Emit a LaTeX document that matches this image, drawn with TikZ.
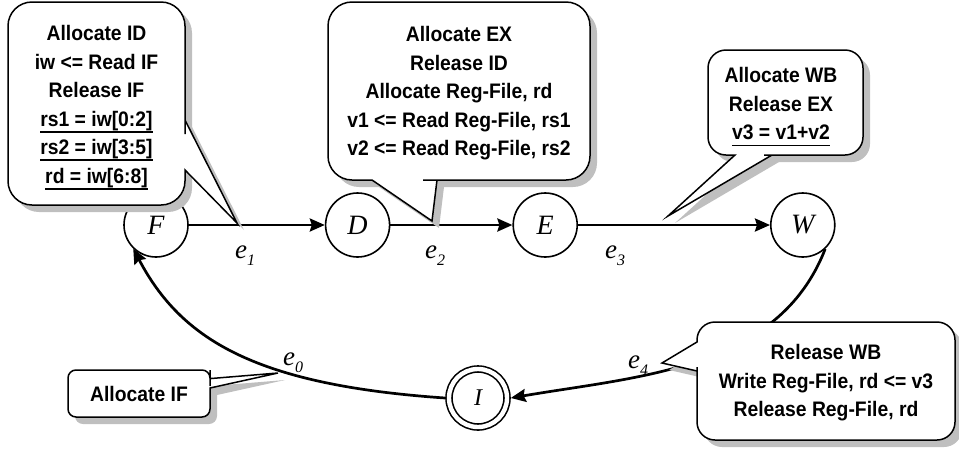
\documentclass[tikz,border=0pt]{standalone}
\usepackage{fontspec}
\setmainfont{Liberation Serif}
\newfontfamily\calloutfont{Liberation Sans}[FakeStretch=0.92]
\usetikzlibrary{arrows.meta,positioning}
\colorlet{shadowgrey}{black!25}
\newcommand{\elab}[1]{\textit{e}\raisebox{-7pt}{\fontsize{16}{16}\selectfont\textit{#1}}}
\newcommand{\ulined}[1]{{\setbox0\hbox{#1}\leavevmode\rlap{\vrule width\wd0 height-4.8pt depth6.6pt}\box0}}

\begin{document}
\begin{tikzpicture}[x=1pt,y=1pt,
    state/.style={circle,draw,line width=1.6pt,minimum size=64pt,inner sep=0pt,font=\fontsize{28}{28}\selectfont\itshape},
    final/.style={state,double,double distance=4.4pt,minimum size=58pt,outer sep=3.8pt,font=\fontsize{24}{24}\selectfont\itshape},
    flow/.style={line width=2.7pt,-{Stealth[length=15pt,width=13pt,inset=2pt]}},
    elabel/.style={anchor=base west,inner sep=0pt,font=\fontsize{27}{27}\selectfont},
    calltext/.style={align=center,inner sep=0pt,font=\calloutfont\bfseries\fontsize{21}{28.5}\selectfont},
    backshadow/.style={fill=shadowgrey,rounded corners=#1},
    backshadow/.default=0pt,
    balloon/.style={draw,fill=white,line width=1.5pt,rounded corners=#1}]
  \useasboundingbox (0,0) rectangle (959,-448);

  % pipeline states
  \node[state] (F) at (156,-225) {F};
  \node[state,right=136pt of F] (D) {D};
  \node[state,right=122pt of D] (E) {E};
  \node[state,right=192pt of E] (W) {W};
  \node[final] (I) at (478,-398) {I};

  \draw[flow] (F) -- (D);
  \draw[flow] (D) -- (E);
  \draw[flow] (E) -- (W);
  \draw[flow] (W.-47) .. controls +(-47,-121) and +(128,22) .. (I.east);
  \draw[flow] (I.west) .. controls +(-190,13) and +(48,-91) .. (F.226);

  \node[elabel] (e1) at (235,-258) {\elab{1}};
  \node[elabel] (e2) at (425,-258) {\elab{2}};
  \node[elabel] (e3) at (605,-258) {\elab{3}};
  \node[elabel] (e0) at (283,-365) {\elab{0}};
  \node[elabel] (e4) at (628,-368) {\elab{4}};

  % callout shadows
  \fill[backshadow=24pt] (15,-9) rectangle (192,-212);
  \fill[backshadow] (192,-127) -- (244,-230) -- (192,-177) -- cycle;
  \fill[backshadow=24pt] (335,-9) rectangle (597,-187);
  \fill[backshadow] (444,-187) -- (439,-228) -- (379,-187) -- cycle;
  \fill[backshadow=18pt] (715,-57) rectangle (870,-162);
  \fill[backshadow] (779,-162) -- (675,-223) -- (742,-162) -- cycle;
  \fill[backshadow=18pt] (704,-329) rectangle (962,-447);
  \fill[backshadow] (704,-378) -- (669,-370) -- (704,-349) -- cycle;
  \fill[backshadow=8pt] (75,-377) rectangle (217,-424);
  \fill[backshadow] (217,-385.6) -- (285,-380) -- (217,-395) -- cycle;

  % callout outlines
  \draw[balloon=24pt] (96,-2) -- (185,-2) -- (185,-110) [sharp corners] -- (185,-120) -- (237,-223)
    -- (185,-170) -- (185,-180) [rounded corners=24pt] -- (185,-205) -- (8,-205) -- (8,-2) -- cycle;
  \draw[balloon=24pt] (459,-2) -- (590,-2) -- (590,-180) -- (447,-180) [sharp corners] -- (437,-180)
    -- (432,-221) -- (372,-180) -- (362,-180) [rounded corners=24pt] -- (328,-180) -- (328,-2) -- cycle;
  \draw[balloon=18pt] (785,-50) -- (863,-50) -- (863,-155) -- (782,-155) [sharp corners] -- (772,-155)
    -- (668,-216) -- (735,-155) -- (730,-155) [rounded corners=18pt] -- (708,-155) -- (708,-50) -- cycle;
  \draw[balloon=18pt] (826,-322) -- (955,-322) -- (955,-440) -- (697,-440) -- (697,-385) [sharp corners]
    -- (697,-371) -- (662,-363) -- (697,-342) -- (697,-341) [rounded corners=18pt] -- (697,-322) -- cycle;
  \draw[balloon=8pt] (139,-370) -- (210,-370) -- (210,-378.2) [sharp corners] -- (210,-378.6) -- (278,-373)
    -- (210,-388) -- (210,-390) [rounded corners=8pt] -- (210,-417) -- (68,-417) -- (68,-370) -- cycle;

  % callout texts
  \node[calltext] (c1) at (96.5,-107.5)
    {Allocate ID\\iw <= Read IF\\Release IF\\\ulined{rs1 = iw[0:2]}\\\ulined{rs2 = iw[3:5]}\\\ulined{rd = iw[6:8]}};
  \node[calltext] (c2) at (459,-93.5)
    {Allocate EX\\Release ID\\Allocate Reg-File, rd\\v1 <= Read Reg-File, rs1\\v2 <= Read Reg-File, rs2};
  \node[calltext] (c3) at (781,-107) {Allocate WB\\Release EX\\\ulined{v3 = v1+v2}};
  \node[calltext] (c4) at (826,-383) {Release WB\\Write Reg-File, rd <= v3\\Release Reg-File, rd};
  \node[calltext] (c5) at (139,-393.5) {Allocate IF};
\end{tikzpicture}
\end{document}
